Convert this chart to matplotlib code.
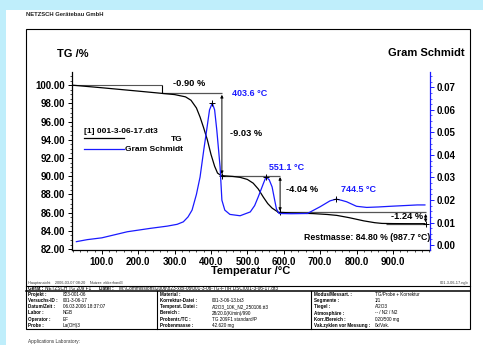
import matplotlib
matplotlib.use('Agg')
import matplotlib.pyplot as plt
from matplotlib.lines import Line2D
from matplotlib.patches import Rectangle
from matplotlib.ticker import FormatStrFormatter, MultipleLocator

plt.rcParams['font.family'] = ['Liberation Sans', 'DejaVu Sans']

W, H = 483, 345
BLUE = '#1a1aff'
GREY = '#555555'

# TG curve (temperature / degC, mass / %)
tg_temp = [20, 100, 200, 266, 300, 330, 345, 360, 370, 380, 390, 400, 410, 418,
           425, 435, 460, 480, 500, 516, 530, 544, 556, 568, 585, 620, 680, 720,
           746, 780, 820, 850, 870, 900, 950, 988]
tg_mass = [100.00, 99.72, 99.35, 99.10, 98.97, 98.72, 98.35, 97.5, 96.5, 95.3,
           94.0, 92.4, 91.1, 90.35, 90.15, 90.05, 89.98, 89.88, 89.65, 89.24,
           88.6, 87.7, 87.0, 86.5, 86.05, 85.97, 85.9, 85.8, 85.7, 85.45, 85.1,
           84.9, 84.82, 84.80, 84.79, 84.79]

# Gram Schmidt trace
gs_temp = [30, 60, 100, 170, 233, 280, 307, 324, 337, 348, 360, 370, 380, 389,
           396, 403.6, 410, 416, 421, 425, 430, 438, 452, 480, 508, 520, 530,
           544, 551.1, 560, 568, 575, 580, 587, 620, 665, 700, 727, 744.5, 760,
           773, 800, 828, 860, 893, 930, 967, 988]
gs_val = [0.0015, 0.0024, 0.0032, 0.0059, 0.0074, 0.0084, 0.0092, 0.0103,
          0.0125, 0.0155, 0.0225, 0.0302, 0.0420, 0.0520, 0.0600, 0.0630,
          0.0600, 0.0510, 0.0420, 0.0347, 0.0199, 0.0155, 0.0136, 0.0130,
          0.0147, 0.0175, 0.0214, 0.0273, 0.0302, 0.0290, 0.0258, 0.0200,
          0.0160, 0.0140, 0.0139, 0.0140, 0.0170, 0.0196, 0.0204, 0.0198,
          0.0192, 0.0172, 0.0167, 0.0169, 0.0172, 0.0175, 0.0178, 0.0178]

# mass steps: start temperatures, levels and labels
step_temp = [266, 430, 590, 990]
step_level = [100.00, 99.10, 90.07, 86.03, 84.79]
step_labels = ['-0.90 %', '-9.03 %', '-4.04 %', '-1.24 %']
step_text_pos = [(296, 100.22), (452, 94.73), (606, 88.58), (894, 85.62)]

peak_temp = [403.6, 551.1, 744.5]
peak_val = [0.0630, 0.0302, 0.0204]
peak_text_pos = [(458, 0.0673), (560, 0.0345), (757, 0.0248)]

rest_mass = 84.80
rest_temp = 987.7

table_rows = [
    [('Projekt :', '823-001-06'), ('Material :', ''),
     ('Modus/Messart. :', 'TG/Probe + Korrektur')],
    [('Versuchs-ID :', '001-3-06-17'), ('Korrektur-Datei :', '001-3-06-13.bt3'),
     ('Segmente :', '1/1')],
    [('Datum/Zeit :', '06.03.2006 18:37:07'),
     ('Temperat. Datei :', 'Al2O3_10K_N2_250106.tt3'), ('Tiegel :', 'Al2O3')],
    [('Labor :', 'NGB'), ('Bereich :', '28/20.0(K/min)/990'),
     ('Atmosphäre :', '-- / N2 / N2')],
    [('Operator :', 'EF'), ('Probentr./TC :', 'TG 209F1 standard/P'),
     ('Korr./Bereich :', '020/500 mg')],
    [('Probe :', 'La(OH)3'), ('Probenmasse :', '42.620 mg'),
     ('Vak.zyklen vor Messung :', '0x/Vak.')],
]


def fx(px):
    return px / W


def fy(py):
    return 1 - py / H


fig = plt.figure(figsize=(W / 100, H / 100), dpi=100, facecolor='#bfeefb')
fig.add_artist(Rectangle((fx(6), 0), 1 - fx(6), fy(10), transform=fig.transFigure,
                         facecolor='white', edgecolor='none', zorder=0))

# page frame and report table
frame = dict(color='black', lw=0.8, transform=fig.transFigure)
fig.add_artist(Rectangle((fx(26), fy(329)), fx(444), fy(29) - fy(329),
                         transform=fig.transFigure, fill=False,
                         edgecolor='black', lw=0.8))
fig.add_artist(Line2D([fx(26), fx(470)], [fy(285.5), fy(285.5)], **frame))
fig.add_artist(Line2D([fx(26), fx(470)], [fy(291), fy(291)], color='black',
                      lw=1.1, transform=fig.transFigure))
for xv in (157, 311):
    fig.add_artist(Line2D([fx(xv), fx(xv)], [fy(291), fy(329)], **frame))

fig.text(fx(26), fy(14), 'NETZSCH Gerätebau GmbH', fontsize=4.2,
         fontweight='bold', va='center', color='#222222')
fig.text(fx(28), fy(283), 'Hauptansicht    2006-03-07 08:20    Nutzer: ekkerhard3',
         fontsize=2.8, va='center', color='#333333')
fig.text(fx(468), fy(283), '001-3-06-17.ngb', fontsize=2.8, va='center',
         ha='right', color='#333333')
fig.text(fx(28), fy(288.3), 'Gerät :', fontsize=3.4, fontweight='bold', va='center')
fig.text(fx(45), fy(288.3), 'NETZSCH TG 209 F1', fontsize=3.4, va='center')
fig.text(fx(99), fy(288.3), 'Datei :', fontsize=3.4, fontweight='bold', va='center')
fig.text(fx(119), fy(288.3),
         'M:\\Commissions\\2006\\823-xxx-06\\001-3-06-TG-FTIR DSC\\001-3-06-17.dt3',
         fontsize=3.4, va='center')

col_x = [(28, 63), (160, 212), (314, 375)]
for i, row in enumerate(table_rows):
    yy = fy(294.7 + i * 6.1)
    for (lx, vx), (lab, val) in zip(col_x, row):
        fig.text(fx(lx), yy, lab, fontsize=3.3, fontweight='bold', va='center')
        fig.text(fx(vx), yy, val, fontsize=3.3, va='center')
fig.text(fx(28), fy(341.5), 'Applications Laboratory:', fontsize=3.4, va='center',
         color='#333333')

# main plot
ax = fig.add_axes([fx(72), fy(250), fx(358), fy(72) - fy(250)])
ax.patch.set_alpha(0)
ax2 = ax.twinx()

ax.plot(tg_temp, tg_mass, color='black', lw=0.9, zorder=3)
ax2.plot(gs_temp, gs_val, color=BLUE, lw=0.9, zorder=3)

ax.set_xlim(18, 1002)
ax.set_ylim(81.9, 101.45)

# mass step markers
ax.hlines(step_level[0], 18, step_temp[0], color=GREY, lw=0.8)
ax.vlines(step_temp[0], step_level[1], step_level[0], color='black', lw=0.8)
hl_ends = [step_temp[1], step_temp[2], step_temp[3], step_temp[3]]
hl_starts = [step_temp[0], step_temp[1], step_temp[2], 880]
for k in range(4):
    ax.hlines(step_level[k + 1], hl_starts[k], hl_ends[k], color=GREY, lw=0.9)
for k in range(1, 4):
    ax.annotate('', xy=(step_temp[k], step_level[k + 1]),
                xytext=(step_temp[k], step_level[k]),
                arrowprops=dict(arrowstyle='<|-|>', color='black', lw=0.7,
                                mutation_scale=4, shrinkA=1, shrinkB=1))
    ax.plot(step_temp[k], step_level[k + 1], '+', color='black', ms=4, mew=0.7)
for (tx, ty), lab in zip(step_text_pos, step_labels):
    ax.text(tx, ty, lab, fontsize=6.7, fontweight='bold', va='center')
ax.text(656, 83.3, 'Restmasse: %.2f %% (%.1f °C)' % (rest_mass, rest_temp),
        fontsize=6.3, fontweight='bold', va='center', clip_on=True)

# peak markers
ax2.plot(peak_temp, peak_val, '+', color='black', ms=5, mew=0.7, zorder=4)
for (tx, ty), pt in zip(peak_text_pos, peak_temp):
    ax2.text(tx, ty, '%.1f °C' % pt, fontsize=6.5, fontweight='bold',
             color=BLUE, va='center')

# legend block
ax.text(0.033, 0.666, '[1] 001-3-06-17.dt3', transform=ax.transAxes,
        fontsize=6, fontweight='bold', va='center')
ax.add_line(Line2D([0.033, 0.145], [0.627, 0.627], color='black', lw=0.9,
                   transform=ax.transAxes))
ax.add_line(Line2D([0.033, 0.145], [0.570, 0.570], color=BLUE, lw=0.9,
                   transform=ax.transAxes))
ax.text(0.310, 0.621, 'TG', transform=ax.transAxes, fontsize=6,
        fontweight='bold', va='center', ha='right')
ax.text(0.310, 0.565, 'Gram Schmidt', transform=ax.transAxes, fontsize=6,
        fontweight='bold', va='center', ha='right')

# axes styling
for a in (ax, ax2):
    a.spines['top'].set_visible(False)
ax.spines['right'].set_visible(False)
ax2.spines['left'].set_visible(False)
ax2.spines['bottom'].set_visible(False)
ax2.spines['right'].set_color(BLUE)
for s in ('left', 'bottom'):
    ax.spines[s].set_linewidth(0.9)
ax2.spines['right'].set_linewidth(0.9)

ax.set_xticks(list(range(100, 1000, 100)))
ax.xaxis.set_minor_locator(MultipleLocator(20))
ax.yaxis.set_major_locator(MultipleLocator(2))
ax.yaxis.set_minor_locator(MultipleLocator(0.5))
ax2.yaxis.set_major_locator(MultipleLocator(0.01))
ax2.yaxis.set_minor_locator(MultipleLocator(0.0025))
ax.xaxis.set_major_formatter(FormatStrFormatter('%.1f'))
ax.yaxis.set_major_formatter(FormatStrFormatter('%.2f'))
ax2.yaxis.set_major_formatter(FormatStrFormatter('%.2f'))
ax2.set_ylim(-0.0022, 0.0768)

ax.tick_params(axis='both', which='major', length=3, width=0.7, labelsize=7, pad=2)
ax.tick_params(axis='both', which='minor', length=1.5, width=0.5)
ax2.tick_params(axis='y', which='major', length=3, width=0.7, labelsize=7,
                pad=2, color=BLUE)
ax2.tick_params(axis='y', which='minor', length=1.5, width=0.5, color=BLUE)
for lab in ax.get_xticklabels() + ax.get_yticklabels() + ax2.get_yticklabels():
    lab.set_fontweight('bold')

fig.text(fx(57), fy(54), 'TG /%', fontsize=8, fontweight='bold', va='center')
fig.text(fx(465), fy(53), 'Gram Schmidt', fontsize=8, fontweight='bold',
         va='center', ha='right')
fig.text(fx(251), fy(271), 'Temperatur /°C', fontsize=8, fontweight='bold',
         va='center', ha='center')

fig.savefig('out.png', dpi=100)
